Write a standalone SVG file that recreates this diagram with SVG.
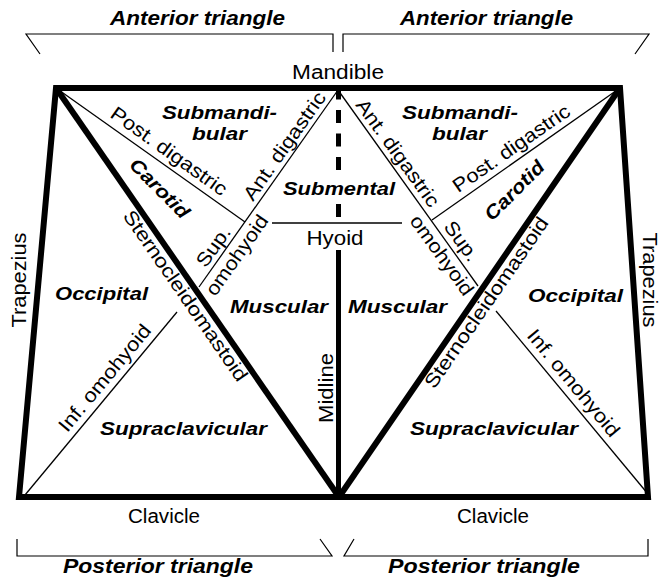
<svg xmlns="http://www.w3.org/2000/svg" width="665" height="582" viewBox="0 0 665 582">
<style>
.thick{stroke:#000;stroke-width:6;fill:none;stroke-linejoin:miter;stroke-miterlimit:20}
.mid{stroke:#000;stroke-width:5;fill:none}
.thin{stroke:#000;stroke-width:1.3;fill:none}
.br{stroke:#000;stroke-width:1.2;fill:none}
text{font-family:"Liberation Sans",Arial,Helvetica,sans-serif;fill:#000;text-anchor:middle}
.t{font-size:19.5px}
.b{font-size:19px;font-weight:bold;font-style:italic}
.h{font-size:20px;font-weight:bold;font-style:italic}
</style>
<rect width="665" height="582" fill="#fff"/>
<g id="brackets">
<path class="br" d="M40 54L26 34H333V52"/>
<path class="br" d="M343 52V34H649L635 54"/>
<path class="br" d="M17 539V556H332L320 539"/>
<path class="br" d="M354 539L344 556H648V539"/>
</g>
<g id="connectors">
<path class="thin" d="M56 88L245 222"/>
<path class="thin" d="M338 90L199 287"/>
<path class="thin" d="M25 495L177 312"/>
<path class="thin" d="M620 88L432 220"/>
<path class="thin" d="M338 90L478 286"/>
<path class="thin" d="M496 311L648 494"/>
<path class="thin" d="M272 223H402"/>
<path class="thick" d="M56 88L339 497"/>
<path class="thick" d="M620 88L339 497"/>
<path class="mid" d="M338.5 88V99.5M338.5 110V123M338.5 133.5V146.5M338.5 157V170M338.5 204V217M338.5 250V497"/>
<path class="thick" d="M56 88H620L648 497H19Z"/>
</g>
<g id="headers">
<text class="h" x="197.5" y="25" textLength="175" lengthAdjust="spacingAndGlyphs">Anterior triangle</text>
<text class="h" x="486.5" y="25" textLength="173" lengthAdjust="spacingAndGlyphs">Anterior triangle</text>
<text class="h" x="158" y="573" textLength="190" lengthAdjust="spacingAndGlyphs">Posterior triangle</text>
<text class="h" x="484" y="573" textLength="192" lengthAdjust="spacingAndGlyphs">Posterior triangle</text>
</g>
<g id="region-labels">
<text class="b" x="219.5" y="119" textLength="115" lengthAdjust="spacingAndGlyphs">Submandi-</text>
<text class="b" x="219.5" y="140" textLength="55" lengthAdjust="spacingAndGlyphs">bular</text>
<text class="b" x="460" y="119" textLength="116" lengthAdjust="spacingAndGlyphs">Submandi-</text>
<text class="b" x="459.5" y="140" textLength="55" lengthAdjust="spacingAndGlyphs">bular</text>
<text class="b" x="339" y="195" textLength="112" lengthAdjust="spacingAndGlyphs">Submental</text>
<text class="b" x="101.5" y="300" textLength="93" lengthAdjust="spacingAndGlyphs">Occipital</text>
<text class="b" x="575.5" y="302" textLength="95" lengthAdjust="spacingAndGlyphs">Occipital</text>
<text class="b" x="279" y="313" textLength="98" lengthAdjust="spacingAndGlyphs">Muscular</text>
<text class="b" x="397.5" y="313" textLength="99" lengthAdjust="spacingAndGlyphs">Muscular</text>
<text class="b" x="183.5" y="435" textLength="167" lengthAdjust="spacingAndGlyphs">Supraclavicular</text>
<text class="b" x="494" y="435" textLength="168" lengthAdjust="spacingAndGlyphs">Supraclavicular</text>
<text class="b" transform="translate(160 188) rotate(45)" y="7" textLength="76" lengthAdjust="spacingAndGlyphs">Carotid</text>
<text class="b" transform="translate(514 190) rotate(-45)" y="7" textLength="76" lengthAdjust="spacingAndGlyphs">Carotid</text>
</g>
<g id="structure-labels">
<text class="t" x="338" y="79" textLength="92" lengthAdjust="spacingAndGlyphs">Mandible</text>
<text class="t" x="164" y="523" textLength="72" lengthAdjust="spacingAndGlyphs">Clavicle</text>
<text class="t" x="493" y="523" textLength="72" lengthAdjust="spacingAndGlyphs">Clavicle</text>
<text class="t" x="335" y="245" textLength="57" lengthAdjust="spacingAndGlyphs">Hyoid</text>
<text class="t" transform="translate(333 388) rotate(-90)" textLength="70" lengthAdjust="spacingAndGlyphs">Midline</text>
<text class="t" transform="translate(26 280) rotate(-90)" textLength="95" lengthAdjust="spacingAndGlyphs">Trapezius</text>
<text class="t" transform="translate(643 280) rotate(90)" textLength="95" lengthAdjust="spacingAndGlyphs">Trapezius</text>
<text class="t" transform="translate(161.2 162.2) rotate(35.5)" y="-7" textLength="138" lengthAdjust="spacingAndGlyphs">Post. digastric</text>
<text class="t" transform="translate(294 152.6) rotate(-54.8)" y="-5" textLength="128" lengthAdjust="spacingAndGlyphs">Ant. digastric</text>
<text class="t" transform="translate(222.9 253.3) rotate(-54.8)" y="-5" textLength="45" lengthAdjust="spacingAndGlyphs">Sup.</text>
<text class="t" transform="translate(226.7 248) rotate(-54.8)" y="19" textLength="94" lengthAdjust="spacingAndGlyphs">omohyoid</text>
<text class="t" transform="translate(195.7 288.7) rotate(55.35)" y="19" textLength="203" lengthAdjust="spacingAndGlyphs">Sternocleidomastoid</text>
<text class="t" transform="translate(115.1 386.6) rotate(-50.3)" y="-7" textLength="133" lengthAdjust="spacingAndGlyphs">Inf. omohyoid</text>
<text class="t" transform="translate(388.4 159.7) rotate(54.1)" y="-5" textLength="128" lengthAdjust="spacingAndGlyphs">Ant. digastric</text>
<text class="t" transform="translate(519 159.5) rotate(-34.8)" y="-7" textLength="138" lengthAdjust="spacingAndGlyphs">Post. digastric</text>
<text class="t" transform="translate(452.2 247.8) rotate(54.1)" y="-5" textLength="45" lengthAdjust="spacingAndGlyphs">Sup.</text>
<text class="t" transform="translate(452 248) rotate(54.1)" y="19" textLength="94" lengthAdjust="spacingAndGlyphs">omohyoid</text>
<text class="t" transform="translate(477 296) rotate(-55.4)" y="18" textLength="203" lengthAdjust="spacingAndGlyphs">Sternocleidomastoid</text>
<text class="t" transform="translate(563.1 391.7) rotate(50.3)" y="-7" textLength="133" lengthAdjust="spacingAndGlyphs">Inf. omohyoid</text>
</g>
</svg>
